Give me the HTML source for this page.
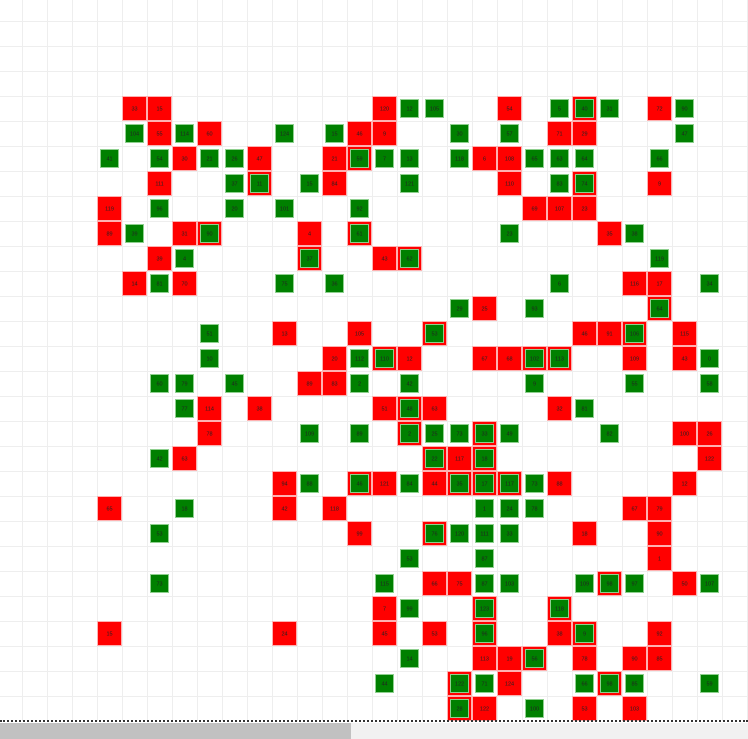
<!DOCTYPE html>
<html><head><meta charset="utf-8"><style>
html,body{margin:0;padding:0;background:#fff;overflow:hidden}
#wrap{position:relative;width:748px;height:739px}
#dash{position:absolute;left:0;top:720px;width:748px;border-top:2px dotted #333}
#track{position:absolute;left:0;top:723px;width:748px;height:16px;background:#f1f1f1}
#thumb{position:absolute;left:0;top:723px;width:351px;height:16px;background:#c1c1c1}
</style></head><body>
<div id="wrap">
<svg id="chart" width="748" height="721" style="position:absolute;left:0;top:0"></svg>
<div id="dash"></div>
<div id="track"></div>
<div id="thumb"></div>
</div>
<script>
const redCells = [
[3,5,33],[3,6,15],[3,15,120],[3,20,54],[3,23,40],[3,26,72],
[4,6,55],[4,8,60],[4,14,46],[4,15,9],[4,22,71],[4,23,29],
[5,7,30],[5,10,47],[5,13,21],[5,14,59],[5,19,6],[5,20,108],
[6,6,111],[6,10,11],[6,13,84],[6,20,110],[6,23,74],[6,26,9],
[7,4,119],[7,21,69],[7,22,107],[7,23,23],
[8,4,89],[8,7,31],[8,8,90],[8,12,4],[8,14,61],[8,24,35],
[9,6,39],[9,12,37],[9,15,43],[9,16,62],
[10,5,14],[10,7,70],[10,25,116],[10,26,17],
[11,19,25],[11,26,64],
[12,11,13],[12,14,105],[12,17,53],[12,23,46],[12,24,91],[12,25,106],[12,27,115],
[13,13,20],[13,15,110],[13,16,12],[13,19,67],[13,20,68],[13,21,102],[13,22,113],[13,25,109],[13,27,43],
[14,12,89],[14,13,83],
[15,8,114],[15,10,38],[15,15,51],[15,16,48],[15,17,63],[15,22,32],
[16,8,78],[16,16,2],[16,19,33],[16,27,100],[16,28,26],
[17,7,63],[17,17,22],[17,18,117],[17,19,18],[17,28,122],
[18,11,94],[18,14,46],[18,15,121],[18,17,44],[18,18,35],[18,19,17],[18,20,117],[18,22,88],[18,27,12],
[19,4,65],[19,11,42],[19,13,118],[19,25,67],[19,26,79],
[20,14,99],[20,17,76],[20,23,18],[20,26,90],
[21,26,1],
[22,17,66],[22,18,75],[22,24,98],[22,27,50],
[23,15,7],[23,19,123],[23,22,118],
[24,4,15],[24,11,24],[24,15,45],[24,17,53],[24,19,96],[24,22,38],[24,23,9],[24,26,92],
[25,19,113],[25,20,19],[25,21,56],[25,23,78],[25,25,90],[25,26,85],
[26,18,122],[26,20,124],[26,24,98],
[27,18,28],[27,19,122],[27,23,53],[27,25,103]
];
const greenCells = [
[3,16,12],[3,17,105],[3,22,5],[3,23,40],[3,24,31],[3,27,90],
[4,5,104],[4,7,114],[4,11,124],[4,13,15],[4,18,30],[4,20,57],[4,27,47],
[5,4,41],[5,6,54],[5,8,21],[5,9,26],[5,14,59],[5,15,7],[5,16,13],[5,18,118],[5,21,65],[5,22,63],[5,23,64],[5,26,66],
[6,9,37],[6,10,11],[6,12,15],[6,16,121],[6,22,83],[6,23,74],
[7,6,96],[7,9,20],[7,11,101],[7,14,92],
[8,5,39],[8,8,90],[8,14,61],[8,20,23],[8,25,38],
[9,7,4],[9,12,37],[9,16,62],[9,26,119],
[10,6,81],[10,11,75],[10,13,36],[10,22,6],[10,28,34],
[11,18,29],[11,21,93],[11,26,64],
[12,8,51],[12,17,53],[12,25,106],
[13,8,10],[13,14,112],[13,15,110],[13,21,102],[13,22,113],[13,28,0],
[14,6,60],[14,7,79],[14,9,45],[14,14,2],[14,16,42],[14,21,9],[14,25,55],[14,28,58],
[15,7,77],[15,16,48],[15,23,81],
[16,12,109],[16,14,89],[16,16,2],[16,17,25],[16,18,73],[16,19,33],[16,20,49],[16,24,82],
[17,6,42],[17,17,22],[17,19,18],
[18,12,88],[18,14,46],[18,16,84],[18,18,35],[18,19,17],[18,20,117],[18,21,73],
[19,7,18],[19,19,1],[19,20,24],[19,21,78],
[20,6,53],[20,17,76],[20,18,120],[20,19,111],[20,20,33],
[21,16,53],[21,19,87],
[22,6,73],[22,15,115],[22,19,87],[22,20,103],[22,23,109],[22,24,98],[22,25,97],[22,28,107],
[23,16,99],[23,19,123],[23,22,118],
[24,19,96],[24,23,9],
[25,16,14],[25,21,56],
[26,15,44],[26,18,122],[26,19,71],[26,23,66],[26,24,98],[26,25,85],[26,28,59],
[27,18,28],[27,21,100]
];
const NS='http://www.w3.org/2000/svg';
const svg=document.getElementById('chart');
const CELL=25, X0=-3, Y0=21;
function xPos(c){return X0+c*CELL;}
function yPos(r){return Y0+r*CELL;}
function mk(tag,attrs){const e=document.createElementNS(NS,tag);for(const k in attrs)e.setAttribute(k,attrs[k]);svg.appendChild(e);return e;}
for(let c=0;c<=30;c++){const l=mk('line',{x1:xPos(c)+0.5,x2:xPos(c)+0.5,y1:0,y2:721,stroke:'#eeeeee','stroke-width':1});

}
for(let r=-1;r<=29;r++){const l=mk('line',{x1:0,x2:748,y1:yPos(r)+0.5,y2:yPos(r)+0.5,stroke:'#eeeeee','stroke-width':1});

}
function label(x,y,v){const t=mk('text',{x:x,y:y+2,'font-size':5.5,'font-family':'Liberation Sans, sans-serif','text-anchor':'middle',fill:'#222'});t.textContent=v;

}
redCells.forEach(d=>{const x=xPos(d[1]),y=yPos(d[0]);
const r=mk('rect',{x:x+0.5,y:y+0.5,width:CELL-1,height:CELL-1,fill:'#ff0000',stroke:'#ffb0b0','stroke-width':1});


label(x+CELL/2,y+CELL/2,d[2]);});
greenCells.forEach(d=>{const x=xPos(d[1]),y=yPos(d[0]);
const g=mk('rect',{x:x+3.5,y:y+3.5,width:18,height:18,fill:'#008000',stroke:'#8fd08f','stroke-width':1});


label(x+CELL/2,y+CELL/2,d[2]);});
</script>
</body></html>
